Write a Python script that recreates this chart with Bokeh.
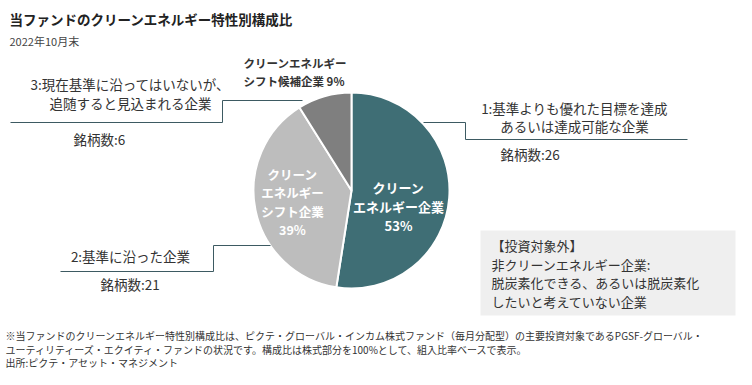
import math
from bokeh.plotting import figure
from bokeh.models import Range1d, ColumnDataSource
from bokeh.core.properties import value
from bokeh.embed import file_html
from bokeh.resources import INLINE

# ---- data ----
segments = ["クリーンエネルギー企業", "クリーンエネルギーシフト企業", "クリーンエネルギーシフト候補企業"]
shares = [53, 39, 9]
colors = ["#3f6e75", "#bdbdbd", "#7f7f7f"]
counts = [26, 21, 6]

title = "当ファンドのクリーンエネルギー特性別構成比"
subtitle = "2022年10月末"
footer = [
    "※当ファンドのクリーンエネルギー特性別構成比は、ピクテ・グローバル・インカム株式ファンド（毎月分配型）の主要投資対象であるPGSF-グローバル・",
    "ユーティリティーズ・エクイティ・ファンドの状況です。構成比は株式部分を100%として、組入比率ベースで表示。",
    "出所:ピクテ・アセット・マネジメント",
]

W, H = 736, 369
FONT = value("Noto Sans CJK JP")

def X(sx):
    return sx

def Y(sy):
    return H - sy

p = figure(width=W, height=H, output_backend="svg", toolbar_location=None,
           x_range=Range1d(0, W), y_range=Range1d(0, H), min_border=0,
           background_fill_color="white", border_fill_color="white")
p.outline_line_color = None
p.axis.visible = False
p.grid.visible = False

# ---- pie ----
total = sum(shares)
starts, ends = [], []
cum = 0
for s in shares:
    a0 = math.pi / 2 - 2 * math.pi * cum / total
    cum += s
    a1 = math.pi / 2 - 2 * math.pi * cum / total
    starts.append(a1)
    ends.append(a0)
src = ColumnDataSource(dict(start=starts, end=ends, color=colors))
cx, cy, r = X(351), Y(190), 98
p.wedge(x=cx, y=cy, radius=r, start_angle="start", end_angle="end",
        fill_color="color", line_color="white", line_width=2, source=src)

def txt(sx, sy, s, size, color="#333333", align="left", bold=False):
    p.text(x=[X(sx)], y=[Y(sy)], text=[s], text_font=FONT,
           text_font_size=f"{size}px", text_color=color, text_align=align,
           text_baseline="middle", text_font_style="bold" if bold else "normal")

# title
txt(9, 18, title, 13.5, "#222222", bold=True)
txt(9, 40, subtitle, 11, "#444444")

# inner labels
for i, s in enumerate(["クリーン", "エネルギー企業", f"{shares[0]}%"]):
    txt(398, 187 + i * 19, s, 13, "white", "center", True)
for i, s in enumerate(["クリーン", "エネルギー", "シフト企業", f"{shares[1]}%"]):
    txt(292, 173.5 + i * 18.5, s, 12.5, "white", "center", True)
txt(243, 62, "クリーンエネルギー", 11.5, "#333333", "left", True)
txt(243, 80, f"シフト候補企業 {shares[2]}%", 11.5, "#333333", "left", True)

# leader lines
LC = "#3d5a62"
p.line([X(v) for v in (10, 222, 222, 302)], [Y(v) for v in (122, 122, 100, 100)], line_color=LC, line_width=1)
p.line([X(v) for v in (423, 465, 465, 687)], [Y(v) for v in (122, 122, 139, 139)], line_color=LC, line_width=1)
p.line([X(v) for v in (60, 213, 213, 270)], [Y(v) for v in (271, 271, 245, 245)], line_color=LC, line_width=1)

LS = 13.5
# label 1
txt(574, 107, "1:基準よりも優れた目標を達成", LS, align="center")
txt(574, 125, "あるいは達成可能な企業", LS, align="center")
txt(500, 153, f"銘柄数:{counts[0]}", LS)
# label 3
txt(130, 83, "3:現在基準に沿ってはいないが、", LS, align="center")
txt(130, 102, "追随すると見込まれる企業", LS, align="center")
txt(73, 138, f"銘柄数:{counts[2]}", LS)
# label 2
txt(130, 255, "2:基準に沿った企業", LS, align="center")
txt(100, 283, f"銘柄数:{counts[1]}", LS)

# box
p.quad(left=[X(480)], right=[X(735)], top=[Y(230)], bottom=[Y(315)], fill_color="#efefef", line_color=None)
for i, s in enumerate(["【投資対象外】", "非クリーンエネルギー企業:", "脱炭素化できる、あるいは脱炭素化", "したいと考えていない企業"]):
    txt(491, 245 + i * 18.5, s, 13)

# footer
for i, s in enumerate(footer):
    txt(5, 335 + i * 13.5, s, 10)

open("out.html", "w").write(file_html(p, INLINE))
